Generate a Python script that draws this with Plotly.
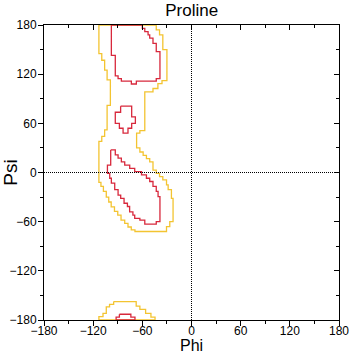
import plotly.graph_objects as go

# ---- data: step contours of the Proline Ramachandran plot (phi, psi in degrees) ----
# each region: left edge (psi breakpoints, phi per band) and right edge (psi breakpoints, phi per band)

# yellow (outer level) main region
YM_L_PSI = [180, 145, 137, 125, 113, 82, 52, 44, 38, -12, -17, -23, -30, -36, -42, -47.5, -52, -58, -62, -66.5, -70, -72]
YM_L_PHI = [-113, -109.5, -106, -103, -99, -103, -106, -109.5, -113, -110.5, -107.5, -104, -101, -98, -94, -90, -86, -81.5, -77.5, -73.5, -69]
YM_R_PSI = [180, 174, 168, 150, 112, 108.5, 102.5, 98.5, 51, 48, 30, 25, 21, 17, 13, 3, -1, -5, -9, -15, -21, -31.5, -60, -66, -72]
YM_R_PHI = [-43, -39, -35, -30, -36, -41, -47, -57, -63, -67, -63, -59, -55, -51, -47, -43, -39, -35, -30.5, -28.5, -24.5, -22.5, -26.5, -30.5]

# yellow bottom region (wraps from psi = 180)
YB_L_PSI = [-157.5, -161, -164, -172, -176, -180]
YB_L_PHI = [-95, -100, -104, -108, -113]
YB_R_PSI = [-157.5, -163, -167, -172, -176.5, -180]
YB_R_PHI = [-67.5, -63, -56, -49.5, -44.5]

# red (inner level) top region
RT_L_PSI = [180, 143, 118, 114.5, 111.5, 108]
RT_L_PHI = [-97.8, -93, -89.6, -85.6, -73.4]
RT_R_PSI = [180, 176, 172, 168, 164, 157.5, 147.5, 114.5, 111.5, 108]
RT_R_PHI = [-60, -57, -53, -51, -47, -43, -38.5, -43, -67.3]

# red island
RI_L_PSI = [81, 73.5, 60, 54, 48]
RI_L_PHI = [-86.5, -93, -88, -83.5]
RI_R_PSI = [81, 68, 60, 54, 48]
RI_R_PHI = [-73, -68.5, -73, -77.5]

# red lower (alpha) region
RL_L_PSI = [27.5, 9, -1, -7, -13, -21, -27.5, -31.5, -37.5, -41.5, -48, -52, -56, -58, -63]
RL_L_PHI = [-98.6, -102.6, -99.8, -97.8, -93.7, -89.6, -86.4, -82.3, -78.2, -75.5, -71.5, -69.3, -63, -57]
RL_R_PSI = [27.5, 21.5, 17.5, 13, 9, 5, 1, -3, -7, -11, -17, -23, -29.5, -60, -63]
RL_R_PHI = [-93, -89.6, -85.6, -81.5, -75.4, -69.3, -61, -55, -51, -47, -43, -40.8, -38.5, -43]

# red bottom region
RB_L_PSI = [-173, -176.5, -180]
RB_L_PHI = [-88, -92]
RB_R_PSI = [-173, -176.5, -180]
RB_R_PHI = [-74, -69]

TICKS = [-180, -120, -60, 0, 60, 120, 180]
TITLE = "Proline"
XLABEL = "Phi"
YLABEL = "Psi"

YELLOW = "#F3C431"
RED = "#D8283C"
FONT = "Liberation Sans, Arial, sans-serif"


def outline(lpsi, lphi, rpsi, rphi):
    xs, ys = [], []
    for i, ph in enumerate(lphi):
        xs += [ph, ph]
        ys += [lpsi[i], lpsi[i + 1]]
    for i in range(len(rphi) - 1, -1, -1):
        xs += [rphi[i], rphi[i]]
        ys += [rpsi[i + 1], rpsi[i]]
    xs.append(xs[0])
    ys.append(ys[0])
    return xs, ys


fig = go.Figure()
for reg in [(YM_L_PSI, YM_L_PHI, YM_R_PSI, YM_R_PHI), (YB_L_PSI, YB_L_PHI, YB_R_PSI, YB_R_PHI)]:
    x, y = outline(*reg)
    fig.add_trace(go.Scatter(x=x, y=y, mode="lines", line=dict(color=YELLOW, width=1.3),
                             hoverinfo="skip", showlegend=False))
for reg in [(RT_L_PSI, RT_L_PHI, RT_R_PSI, RT_R_PHI), (RI_L_PSI, RI_L_PHI, RI_R_PSI, RI_R_PHI),
            (RL_L_PSI, RL_L_PHI, RL_R_PSI, RL_R_PHI), (RB_L_PSI, RB_L_PHI, RB_R_PSI, RB_R_PHI)]:
    x, y = outline(*reg)
    fig.add_trace(go.Scatter(x=x, y=y, mode="lines", line=dict(color=RED, width=1.3),
                             hoverinfo="skip", showlegend=False, xaxis="x2", yaxis="y2"))

# dotted zero lines
fig.add_shape(type="line", x0=0, x1=0, y0=-180, y1=180, xref="x", yref="y",
              line=dict(color="black", width=1, dash="1px,1px"))
fig.add_shape(type="line", x0=-180, x1=180, y0=0, y1=0, xref="x", yref="y",
              line=dict(color="black", width=1, dash="1px,1px"))

# x-axis title as an annotation for exact placement
fig.add_annotation(text=XLABEL, x=0.5, xref="paper", y=-0.1175, yref="paper",
                   xanchor="center", yanchor="bottom", showarrow=False, borderpad=0,
                   font=dict(size=16, family=FONT, color="black"))

common = dict(range=[-180, 180], tickvals=TICKS, showgrid=False, zeroline=False,
              showline=True, linecolor="black", linewidth=1, tickcolor="black",
              ticklen=5, tickwidth=1, fixedrange=True)
minor_out = dict(dtick=30, ticks="outside", ticklen=3, tickcolor="black", tickwidth=1, showgrid=False)
minor_in = dict(dtick=30, ticks="inside", ticklen=3, tickcolor="black", tickwidth=1, showgrid=False)

fig.update_layout(
    width=356, height=355,
    margin=dict(l=44, r=17, t=25, b=35),
    paper_bgcolor="white", plot_bgcolor="white",
    font=dict(family=FONT, color="black", size=12),
    title=dict(text=TITLE, x=0.5385, xanchor="center", y=0.988, yanchor="top",
               font=dict(size=17, family=FONT)),
    xaxis=dict(**common, ticks="outside", minor=minor_out, ticklabelstandoff=-5,
               tickfont=dict(size=12), automargin=False),
    yaxis=dict(**common, ticks="outside", minor=minor_out, ticklabelstandoff=-1,
               title=dict(text=YLABEL, font=dict(size=19), standoff=2),
               tickfont=dict(size=12), automargin=False),
    xaxis2=dict(**common, ticks="inside", minor=minor_in, overlaying="x", side="top",
                anchor="y2", showticklabels=False),
    yaxis2=dict(**common, ticks="inside", minor=minor_in, overlaying="y", side="right",
                anchor="x2", showticklabels=False),
)

fig.write_html("out.html", config={"displayModeBar": False},
               post_script="document.body.style.margin='0';document.body.style.overflow='hidden';")
